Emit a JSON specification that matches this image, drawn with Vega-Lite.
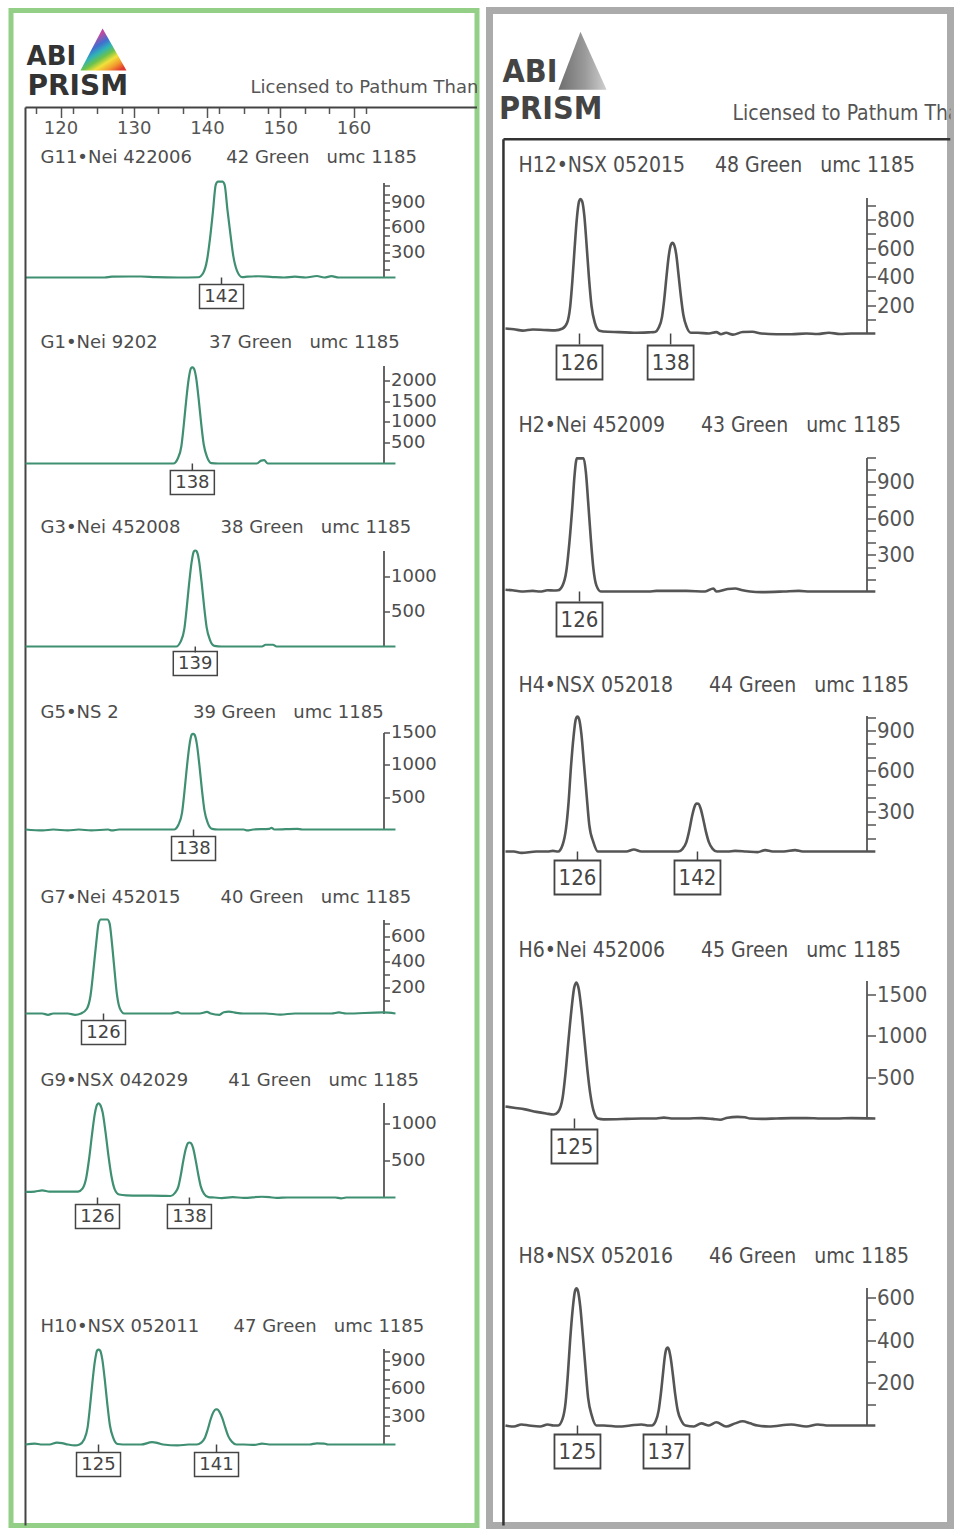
{
"$schema":"https://vega.github.io/schema/vega-lite/v6.json",
"background":"white",
"padding":{"left":8,"top":6.5,"right":0,"bottom":0},
"spacing":12.5,
"bounds":"flush",
"config":{"axis":{"grid":false,"domainColor":"#555","tickColor":"#555","tickWidth":1.5,"labelColor":"#4d4d4d","labelOverlap":false,"labelFlush":false,"labelBound":false,"domainWidth":1.8,"labelPadding":1}},
"datasets":{
"tr":[
{"p":"G11","x":115.22,"y":0},{"p":"G11","x":120,"y":0},{"p":"G11","x":126,"y":0},{"p":"G11","x":127,"y":10},{"p":"G11","x":131,"y":12},{"p":"G11","x":133,"y":4},{"p":"G11","x":136,"y":0},{"p":"G11","x":138.8,"y":3},{"p":"G11","x":139.5,"y":58},{"p":"G11","x":140.0,"y":207},{"p":"G11","x":140.4,"y":460},{"p":"G11","x":140.8,"y":782},{"p":"G11","x":141.2,"y":1115},{"p":"G11","x":141.5,"y":1150},{"p":"G11","x":142.1,"y":1150},{"p":"G11","x":142.4,"y":1115},{"p":"G11","x":142.8,"y":805},{"p":"G11","x":143.2,"y":518},{"p":"G11","x":143.6,"y":253},{"p":"G11","x":144.1,"y":80},{"p":"G11","x":144.8,"y":5},{"p":"G11","x":145.5,"y":10},{"p":"G11","x":147,"y":15},{"p":"G11","x":149,"y":5},{"p":"G11","x":150.5,"y":0},{"p":"G11","x":152,"y":10},{"p":"G11","x":153.5,"y":0},{"p":"G11","x":155,"y":18},{"p":"G11","x":156,"y":0},{"p":"G11","x":157,"y":16},{"p":"G11","x":158,"y":0},{"p":"G11","x":163,"y":0},{"p":"G11","x":165.73,"y":0},
{"p":"G1","x":115.22,"y":0},{"p":"G1","x":125,"y":0},{"p":"G1","x":132,"y":0},{"p":"G1","x":135.4,"y":0},{"p":"G1","x":136.0,"y":116},{"p":"G1","x":136.5,"y":416},{"p":"G1","x":136.8,"y":879},{"p":"G1","x":137.15,"y":1503},{"p":"G1","x":137.5,"y":2035},{"p":"G1","x":137.8,"y":2290},{"p":"G1","x":138.0,"y":2313},{"p":"G1","x":138.2,"y":2290},{"p":"G1","x":138.5,"y":2082},{"p":"G1","x":138.85,"y":1573},{"p":"G1","x":139.2,"y":971},{"p":"G1","x":139.55,"y":463},{"p":"G1","x":140.0,"y":162},{"p":"G1","x":140.6,"y":10},{"p":"G1","x":141.5,"y":0},{"p":"G1","x":146.8,"y":0},{"p":"G1","x":147.4,"y":70},{"p":"G1","x":147.8,"y":80},{"p":"G1","x":148.3,"y":0},{"p":"G1","x":150,"y":0},{"p":"G1","x":160,"y":0},{"p":"G1","x":165.73,"y":0},
{"p":"G3","x":115.22,"y":0},{"p":"G3","x":130,"y":0},{"p":"G3","x":135.8,"y":0},{"p":"G3","x":136.4,"y":69},{"p":"G3","x":136.9,"y":247},{"p":"G3","x":137.2,"y":521},{"p":"G3","x":137.55,"y":891},{"p":"G3","x":137.9,"y":1206},{"p":"G3","x":138.2,"y":1357},{"p":"G3","x":138.4,"y":1371},{"p":"G3","x":138.6,"y":1357},{"p":"G3","x":138.9,"y":1234},{"p":"G3","x":139.25,"y":932},{"p":"G3","x":139.6,"y":576},{"p":"G3","x":139.95,"y":274},{"p":"G3","x":140.4,"y":96},{"p":"G3","x":141.0,"y":10},{"p":"G3","x":142,"y":0},{"p":"G3","x":147.5,"y":0},{"p":"G3","x":148,"y":25},{"p":"G3","x":149,"y":25},{"p":"G3","x":149.5,"y":0},{"p":"G3","x":155,"y":0},{"p":"G3","x":165.73,"y":0},
{"p":"G5","x":115.22,"y":0},{"p":"G5","x":117.6,"y":-15},{"p":"G5","x":119,"y":0},{"p":"G5","x":121,"y":-15},{"p":"G5","x":122.5,"y":0},{"p":"G5","x":124.2,"y":-15},{"p":"G5","x":126.5,"y":0},{"p":"G5","x":127,"y":-15},{"p":"G5","x":128,"y":0},{"p":"G5","x":135.5,"y":0},{"p":"G5","x":136.1,"y":74},{"p":"G5","x":136.6,"y":266},{"p":"G5","x":136.9,"y":562},{"p":"G5","x":137.25,"y":962},{"p":"G5","x":137.6,"y":1302},{"p":"G5","x":137.9,"y":1465},{"p":"G5","x":138.1,"y":1480},{"p":"G5","x":138.3,"y":1465},{"p":"G5","x":138.6,"y":1332},{"p":"G5","x":138.95,"y":1006},{"p":"G5","x":139.3,"y":622},{"p":"G5","x":139.65,"y":296},{"p":"G5","x":140.1,"y":104},{"p":"G5","x":140.7,"y":10},{"p":"G5","x":141.5,"y":0},{"p":"G5","x":145,"y":0},{"p":"G5","x":145.5,"y":-15},{"p":"G5","x":146.3,"y":0},{"p":"G5","x":148.5,"y":10},{"p":"G5","x":148.8,"y":25},{"p":"G5","x":149.2,"y":0},{"p":"G5","x":152.3,"y":10},{"p":"G5","x":153,"y":0},{"p":"G5","x":160,"y":0},{"p":"G5","x":165.73,"y":0},
{"p":"G7","x":115.22,"y":0},{"p":"G7","x":117.5,"y":0},{"p":"G7","x":118.3,"y":-10},{"p":"G7","x":119,"y":0},{"p":"G7","x":121,"y":0},{"p":"G7","x":122,"y":-10},{"p":"G7","x":122.8,"y":0},{"p":"G7","x":123.6,"y":37},{"p":"G7","x":124.1,"y":140},{"p":"G7","x":124.5,"y":340},{"p":"G7","x":124.9,"y":560},{"p":"G7","x":125.2,"y":700},{"p":"G7","x":125.5,"y":730},{"p":"G7","x":126.4,"y":730},{"p":"G7","x":126.7,"y":700},{"p":"G7","x":127.0,"y":560},{"p":"G7","x":127.35,"y":350},{"p":"G7","x":127.7,"y":150},{"p":"G7","x":128.1,"y":40},{"p":"G7","x":128.7,"y":0},{"p":"G7","x":129.5,"y":0},{"p":"G7","x":135,"y":0},{"p":"G7","x":136,"y":10},{"p":"G7","x":136.5,"y":0},{"p":"G7","x":139,"y":0},{"p":"G7","x":140,"y":12},{"p":"G7","x":140.5,"y":0},{"p":"G7","x":141.7,"y":-10},{"p":"G7","x":142.3,"y":10},{"p":"G7","x":143,"y":15},{"p":"G7","x":144,"y":5},{"p":"G7","x":145,"y":0},{"p":"G7","x":148,"y":0},{"p":"G7","x":150,"y":-8},{"p":"G7","x":152,"y":0},{"p":"G7","x":157,"y":0},{"p":"G7","x":158,"y":8},{"p":"G7","x":159,"y":0},{"p":"G7","x":164,"y":8},{"p":"G7","x":165.73,"y":0},
{"p":"G9","x":115.22,"y":75},{"p":"G9","x":116.5,"y":80},{"p":"G9","x":117.5,"y":95},{"p":"G9","x":118.5,"y":80},{"p":"G9","x":121,"y":78},{"p":"G9","x":122.4,"y":80},{"p":"G9","x":123.0,"y":120},{"p":"G9","x":123.5,"y":260},{"p":"G9","x":123.9,"y":520},{"p":"G9","x":124.3,"y":850},{"p":"G9","x":124.7,"y":1140},{"p":"G9","x":125.0,"y":1255},{"p":"G9","x":125.2,"y":1270},{"p":"G9","x":125.4,"y":1255},{"p":"G9","x":125.75,"y":1150},{"p":"G9","x":126.15,"y":880},{"p":"G9","x":126.55,"y":560},{"p":"G9","x":126.95,"y":290},{"p":"G9","x":127.4,"y":110},{"p":"G9","x":128.0,"y":40},{"p":"G9","x":129,"y":30},{"p":"G9","x":132,"y":25},{"p":"G9","x":134,"y":22},{"p":"G9","x":135.0,"y":20},{"p":"G9","x":135.6,"y":60},{"p":"G9","x":136.1,"y":150},{"p":"G9","x":136.4,"y":290},{"p":"G9","x":136.75,"y":490},{"p":"G9","x":137.1,"y":655},{"p":"G9","x":137.4,"y":735},{"p":"G9","x":137.6,"y":743},{"p":"G9","x":137.8,"y":735},{"p":"G9","x":138.1,"y":670},{"p":"G9","x":138.45,"y":505},{"p":"G9","x":138.8,"y":315},{"p":"G9","x":139.15,"y":150},{"p":"G9","x":139.6,"y":50},{"p":"G9","x":140.2,"y":5},{"p":"G9","x":141,"y":0},{"p":"G9","x":142,"y":-8},{"p":"G9","x":143.5,"y":5},{"p":"G9","x":145,"y":-5},{"p":"G9","x":147.5,"y":10},{"p":"G9","x":148.5,"y":5},{"p":"G9","x":149.5,"y":-5},{"p":"G9","x":151,"y":0},{"p":"G9","x":157.5,"y":0},{"p":"G9","x":158.3,"y":-12},{"p":"G9","x":159,"y":0},{"p":"G9","x":165.73,"y":0},
{"p":"H10","x":115.22,"y":0},{"p":"H10","x":116.5,"y":10},{"p":"H10","x":117.3,"y":0},{"p":"H10","x":118.5,"y":0},{"p":"H10","x":119.5,"y":20},{"p":"H10","x":120.2,"y":15},{"p":"H10","x":121,"y":0},{"p":"H10","x":122,"y":-10},{"p":"H10","x":122.6,"y":0},{"p":"H10","x":123.2,"y":51},{"p":"H10","x":123.7,"y":183},{"p":"H10","x":124.0,"y":386},{"p":"H10","x":124.35,"y":660},{"p":"H10","x":124.7,"y":894},{"p":"H10","x":125.0,"y":1006},{"p":"H10","x":125.2,"y":1016},{"p":"H10","x":125.4,"y":1006},{"p":"H10","x":125.7,"y":914},{"p":"H10","x":126.05,"y":691},{"p":"H10","x":126.4,"y":427},{"p":"H10","x":126.75,"y":203},{"p":"H10","x":127.2,"y":71},{"p":"H10","x":127.8,"y":5},{"p":"H10","x":128.5,"y":0},{"p":"H10","x":131,"y":0},{"p":"H10","x":132.5,"y":25},{"p":"H10","x":133.3,"y":15},{"p":"H10","x":134,"y":0},{"p":"H10","x":136,"y":-10},{"p":"H10","x":137.5,"y":0},{"p":"H10","x":138.6,"y":0},{"p":"H10","x":139.2,"y":20},{"p":"H10","x":139.7,"y":70},{"p":"H10","x":140.1,"y":160},{"p":"H10","x":140.5,"y":270},{"p":"H10","x":140.9,"y":350},{"p":"H10","x":141.2,"y":375},{"p":"H10","x":141.4,"y":375},{"p":"H10","x":141.7,"y":350},{"p":"H10","x":142.1,"y":280},{"p":"H10","x":142.5,"y":180},{"p":"H10","x":142.9,"y":90},{"p":"H10","x":143.4,"y":30},{"p":"H10","x":144.0,"y":0},{"p":"H10","x":145,"y":0},{"p":"H10","x":146.5,"y":-5},{"p":"H10","x":147.5,"y":10},{"p":"H10","x":148.5,"y":0},{"p":"H10","x":154,"y":0},{"p":"H10","x":155,"y":12},{"p":"H10","x":156,"y":10},{"p":"H10","x":156.5,"y":0},{"p":"H10","x":165.73,"y":0},
{"p":"H12","x":115.88,"y":35},{"p":"H12","x":117,"y":30},{"p":"H12","x":118.2,"y":20},{"p":"H12","x":119.5,"y":28},{"p":"H12","x":121,"y":25},{"p":"H12","x":122.5,"y":22},{"p":"H12","x":123.5,"y":35},{"p":"H12","x":124.1,"y":75},{"p":"H12","x":124.5,"y":185},{"p":"H12","x":124.8,"y":370},{"p":"H12","x":125.1,"y":600},{"p":"H12","x":125.4,"y":810},{"p":"H12","x":125.7,"y":930},{"p":"H12","x":125.88,"y":945},{"p":"H12","x":126.1,"y":930},{"p":"H12","x":126.4,"y":825},{"p":"H12","x":126.7,"y":620},{"p":"H12","x":127.0,"y":400},{"p":"H12","x":127.35,"y":195},{"p":"H12","x":127.8,"y":75},{"p":"H12","x":128.4,"y":20},{"p":"H12","x":129.5,"y":12},{"p":"H12","x":131,"y":10},{"p":"H12","x":133,"y":5},{"p":"H12","x":135,"y":8},{"p":"H12","x":135.8,"y":10},{"p":"H12","x":136.3,"y":40},{"p":"H12","x":136.75,"y":115},{"p":"H12","x":137.05,"y":240},{"p":"H12","x":137.35,"y":400},{"p":"H12","x":137.65,"y":545},{"p":"H12","x":137.95,"y":625},{"p":"H12","x":138.15,"y":637},{"p":"H12","x":138.35,"y":625},{"p":"H12","x":138.65,"y":555},{"p":"H12","x":138.95,"y":415},{"p":"H12","x":139.25,"y":270},{"p":"H12","x":139.6,"y":130},{"p":"H12","x":140.05,"y":45},{"p":"H12","x":140.6,"y":5},{"p":"H12","x":141.5,"y":5},{"p":"H12","x":143,"y":0},{"p":"H12","x":144,"y":10},{"p":"H12","x":144.6,"y":-5},{"p":"H12","x":145.3,"y":5},{"p":"H12","x":146.2,"y":-8},{"p":"H12","x":147.5,"y":10},{"p":"H12","x":148.8,"y":12},{"p":"H12","x":150,"y":0},{"p":"H12","x":152,"y":-5},{"p":"H12","x":154,"y":-5},{"p":"H12","x":156,"y":0},{"p":"H12","x":157.5,"y":-3},{"p":"H12","x":159,"y":5},{"p":"H12","x":160.5,"y":-3},{"p":"H12","x":162,"y":0},{"p":"H12","x":165.2,"y":0},
{"p":"H2","x":115.88,"y":15},{"p":"H2","x":116.8,"y":10},{"p":"H2","x":118,"y":0},{"p":"H2","x":119.5,"y":5},{"p":"H2","x":120.5,"y":0},{"p":"H2","x":121.5,"y":10},{"p":"H2","x":122.3,"y":8},{"p":"H2","x":122.9,"y":10},{"p":"H2","x":123.5,"y":50},{"p":"H2","x":124.0,"y":170},{"p":"H2","x":124.4,"y":400},{"p":"H2","x":124.8,"y":700},{"p":"H2","x":125.1,"y":960},{"p":"H2","x":125.4,"y":1093},{"p":"H2","x":126.3,"y":1093},{"p":"H2","x":126.6,"y":980},{"p":"H2","x":126.9,"y":740},{"p":"H2","x":127.25,"y":440},{"p":"H2","x":127.6,"y":190},{"p":"H2","x":128.0,"y":50},{"p":"H2","x":128.6,"y":0},{"p":"H2","x":129.5,"y":0},{"p":"H2","x":135,"y":0},{"p":"H2","x":136,"y":5},{"p":"H2","x":140,"y":5},{"p":"H2","x":142.5,"y":0},{"p":"H2","x":143.6,"y":25},{"p":"H2","x":144,"y":0},{"p":"H2","x":145.5,"y":20},{"p":"H2","x":146.5,"y":25},{"p":"H2","x":147.5,"y":10},{"p":"H2","x":148.5,"y":0},{"p":"H2","x":150,"y":-5},{"p":"H2","x":153,"y":0},{"p":"H2","x":155,"y":5},{"p":"H2","x":156.5,"y":0},{"p":"H2","x":160,"y":0},{"p":"H2","x":165.2,"y":0},
{"p":"H4","x":115.88,"y":0},{"p":"H4","x":117,"y":0},{"p":"H4","x":118,"y":-10},{"p":"H4","x":120,"y":0},{"p":"H4","x":121.5,"y":0},{"p":"H4","x":122.2,"y":5},{"p":"H4","x":122.9,"y":0},{"p":"H4","x":123.5,"y":50},{"p":"H4","x":123.95,"y":170},{"p":"H4","x":124.3,"y":370},{"p":"H4","x":124.6,"y":620},{"p":"H4","x":124.95,"y":850},{"p":"H4","x":125.26,"y":985},{"p":"H4","x":125.48,"y":1004},{"p":"H4","x":125.7,"y":985},{"p":"H4","x":126.0,"y":875},{"p":"H4","x":126.35,"y":650},{"p":"H4","x":126.7,"y":420},{"p":"H4","x":127.05,"y":200},{"p":"H4","x":127.6,"y":70},{"p":"H4","x":128.2,"y":0},{"p":"H4","x":129,"y":0},{"p":"H4","x":132,"y":0},{"p":"H4","x":133,"y":15},{"p":"H4","x":134,"y":0},{"p":"H4","x":138,"y":0},{"p":"H4","x":138.9,"y":0},{"p":"H4","x":139.5,"y":20},{"p":"H4","x":140.0,"y":70},{"p":"H4","x":140.4,"y":160},{"p":"H4","x":140.75,"y":260},{"p":"H4","x":141.1,"y":335},{"p":"H4","x":141.35,"y":357},{"p":"H4","x":141.6,"y":355},{"p":"H4","x":141.9,"y":320},{"p":"H4","x":142.25,"y":240},{"p":"H4","x":142.6,"y":150},{"p":"H4","x":143.0,"y":70},{"p":"H4","x":143.5,"y":20},{"p":"H4","x":144.1,"y":0},{"p":"H4","x":145.5,"y":0},{"p":"H4","x":146.5,"y":5},{"p":"H4","x":148,"y":0},{"p":"H4","x":149.5,"y":-5},{"p":"H4","x":150.5,"y":10},{"p":"H4","x":151.5,"y":0},{"p":"H4","x":153,"y":0},{"p":"H4","x":154.5,"y":10},{"p":"H4","x":155.5,"y":0},{"p":"H4","x":160,"y":0},{"p":"H4","x":165.2,"y":0},
{"p":"H6","x":115.88,"y":145},{"p":"H6","x":117,"y":130},{"p":"H6","x":118.5,"y":110},{"p":"H6","x":120,"y":80},{"p":"H6","x":121.3,"y":60},{"p":"H6","x":122.3,"y":48},{"p":"H6","x":122.9,"y":80},{"p":"H6","x":123.5,"y":250},{"p":"H6","x":123.9,"y":560},{"p":"H6","x":124.3,"y":960},{"p":"H6","x":124.7,"y":1330},{"p":"H6","x":125.05,"y":1580},{"p":"H6","x":125.35,"y":1639},{"p":"H6","x":125.65,"y":1560},{"p":"H6","x":126.0,"y":1320},{"p":"H6","x":126.4,"y":960},{"p":"H6","x":126.8,"y":590},{"p":"H6","x":127.2,"y":290},{"p":"H6","x":127.6,"y":100},{"p":"H6","x":128.2,"y":0},{"p":"H6","x":129,"y":-10},{"p":"H6","x":132,"y":-5},{"p":"H6","x":134,"y":0},{"p":"H6","x":136,"y":0},{"p":"H6","x":137,"y":10},{"p":"H6","x":138,"y":0},{"p":"H6","x":140,"y":0},{"p":"H6","x":142,"y":5},{"p":"H6","x":143.5,"y":-5},{"p":"H6","x":144.5,"y":-15},{"p":"H6","x":145.5,"y":10},{"p":"H6","x":146.8,"y":20},{"p":"H6","x":147.8,"y":15},{"p":"H6","x":148.5,"y":0},{"p":"H6","x":150,"y":-5},{"p":"H6","x":152,"y":0},{"p":"H6","x":154,"y":5},{"p":"H6","x":156,"y":5},{"p":"H6","x":158,"y":0},{"p":"H6","x":160,"y":0},{"p":"H6","x":162,"y":5},{"p":"H6","x":165.2,"y":0},
{"p":"H8","x":115.88,"y":0},{"p":"H8","x":117,"y":-5},{"p":"H8","x":118,"y":5},{"p":"H8","x":119,"y":0},{"p":"H8","x":120.5,"y":-5},{"p":"H8","x":121.5,"y":5},{"p":"H8","x":122.3,"y":0},{"p":"H8","x":122.9,"y":0},{"p":"H8","x":123.5,"y":32},{"p":"H8","x":123.9,"y":110},{"p":"H8","x":124.2,"y":240},{"p":"H8","x":124.5,"y":400},{"p":"H8","x":124.85,"y":550},{"p":"H8","x":125.15,"y":632},{"p":"H8","x":125.35,"y":645},{"p":"H8","x":125.55,"y":632},{"p":"H8","x":125.85,"y":560},{"p":"H8","x":126.2,"y":420},{"p":"H8","x":126.55,"y":270},{"p":"H8","x":126.9,"y":130},{"p":"H8","x":127.4,"y":45},{"p":"H8","x":128.0,"y":0},{"p":"H8","x":129,"y":0},{"p":"H8","x":131,"y":-5},{"p":"H8","x":132.5,"y":0},{"p":"H8","x":134,"y":5},{"p":"H8","x":135,"y":0},{"p":"H8","x":135.4,"y":0},{"p":"H8","x":135.9,"y":20},{"p":"H8","x":136.3,"y":70},{"p":"H8","x":136.6,"y":150},{"p":"H8","x":136.9,"y":250},{"p":"H8","x":137.15,"y":330},{"p":"H8","x":137.35,"y":362},{"p":"H8","x":137.5,"y":367},{"p":"H8","x":137.65,"y":360},{"p":"H8","x":137.9,"y":320},{"p":"H8","x":138.2,"y":240},{"p":"H8","x":138.5,"y":150},{"p":"H8","x":138.85,"y":70},{"p":"H8","x":139.3,"y":25},{"p":"H8","x":139.9,"y":0},{"p":"H8","x":141,"y":-5},{"p":"H8","x":142,"y":10},{"p":"H8","x":143,"y":0},{"p":"H8","x":144,"y":15},{"p":"H8","x":145.3,"y":-5},{"p":"H8","x":146.5,"y":10},{"p":"H8","x":147.5,"y":20},{"p":"H8","x":148.5,"y":10},{"p":"H8","x":149.5,"y":0},{"p":"H8","x":151,"y":-5},{"p":"H8","x":154,"y":5},{"p":"H8","x":156,"y":-5},{"p":"H8","x":157.5,"y":5},{"p":"H8","x":159,"y":0},{"p":"H8","x":162,"y":0},{"p":"H8","x":165.2,"y":0}
],
"pk":[
{"p":"G11","x":141.98,"a":142},{"p":"G1","x":138.0,"a":138},{"p":"G3","x":138.4,"a":139},{"p":"G5","x":138.16,"a":138},{"p":"G7","x":125.87,"a":126},{"p":"G9","x":125.05,"a":126},{"p":"G9","x":137.6,"a":138},{"p":"H10","x":125.19,"a":125},{"p":"H10","x":141.3,"a":141},
{"p":"H12","x":125.75,"a":126},{"p":"H12","x":137.9,"a":138},{"p":"H2","x":125.75,"a":126},{"p":"H4","x":125.48,"a":126},{"p":"H4","x":141.48,"a":142},{"p":"H6","x":125.08,"a":125},{"p":"H8","x":125.48,"a":125},{"p":"H8","x":137.35,"a":137}
],
"ti":[
{"p":"G11","t":"G11•Nei 422006\u00a0\u00a0\u00a0\u00a0\u00a0\u00a042 Green\u00a0\u00a0\u00a0umc 1185"},
{"p":"G1","t":"G1•Nei 9202\u00a0\u00a0\u00a0\u00a0\u00a0\u00a0\u00a0\u00a0\u00a037 Green\u00a0\u00a0\u00a0umc 1185"},
{"p":"G3","t":"G3•Nei 452008\u00a0\u00a0\u00a0\u00a0\u00a0\u00a0\u00a038 Green\u00a0\u00a0\u00a0umc 1185"},
{"p":"G5","t":"G5•NS 2\u00a0\u00a0\u00a0\u00a0\u00a0\u00a0\u00a0\u00a0\u00a0\u00a0\u00a0\u00a0\u00a039 Green\u00a0\u00a0\u00a0umc 1185"},
{"p":"G7","t":"G7•Nei 452015\u00a0\u00a0\u00a0\u00a0\u00a0\u00a0\u00a040 Green\u00a0\u00a0\u00a0umc 1185"},
{"p":"G9","t":"G9•NSX 042029\u00a0\u00a0\u00a0\u00a0\u00a0\u00a0\u00a041 Green\u00a0\u00a0\u00a0umc 1185"},
{"p":"H10","t":"H10•NSX 052011\u00a0\u00a0\u00a0\u00a0\u00a0\u00a047 Green\u00a0\u00a0\u00a0umc 1185"},
{"p":"H12","t":"H12•NSX 052015\u00a0\u00a0\u00a0\u00a0\u00a048 Green\u00a0\u00a0\u00a0umc 1185"},
{"p":"H2","t":"H2•Nei 452009\u00a0\u00a0\u00a0\u00a0\u00a0\u00a043 Green\u00a0\u00a0\u00a0umc 1185"},
{"p":"H4","t":"H4•NSX 052018\u00a0\u00a0\u00a0\u00a0\u00a0\u00a044 Green\u00a0\u00a0\u00a0umc 1185"},
{"p":"H6","t":"H6•Nei 452006\u00a0\u00a0\u00a0\u00a0\u00a0\u00a045 Green\u00a0\u00a0\u00a0umc 1185"},
{"p":"H8","t":"H8•NSX 052016\u00a0\u00a0\u00a0\u00a0\u00a0\u00a046 Green\u00a0\u00a0\u00a0umc 1185"}
]
},
"hconcat":[
{
"width":466,"height":1515,
"view":{"stroke":"#93cf87","strokeWidth":5},
"resolve":{"scale":{"x":"independent","y":"independent"},"axis":{"x":"independent","y":"independent"}},
"layer":[
{"layer":[
{"data":{"name":"tr"},"transform":[{"filter":"datum.p==='G11'"}],"mark":{"type":"line","interpolate":"monotone","color":"#3f8f72","strokeWidth":2.2},"encoding":{"x":{"field":"x","type":"quantitative","scale":{"domain":[113.242,176.86],"nice":false,"zero":false},"axis":{"orient":"bottom","offset":-1418,"domain":false,"title":null,"format":"d","values":[120,130,140,150,160],"labelOverlap":false,"labelFlush":false,"labelBound":false,"tickSize":10,"labelFont":"DejaVu Sans","labelFontSize":18,"labelColor":"#555","labelPadding":2}},"y":{"field":"y","type":"quantitative","scale":{"domain":[0,1140],"range":[267,172],"nice":false,"zero":false},"axis":{"orient":"right","offset":-93.5,"title":null,"format":"d","values":[100,200,300,400,500,600,700,800,900,1000,1100],"labelExpr":"datum.value % 300 === 0 ? datum.label : ''","tickSize":6,"encode":{"ticks":{"update":{"x2":{"signal":"datum.value % 300 === 0 ? 6 : 3"}}}},"labelFont":"DejaVu Sans","labelFontSize":18}}}},
{"data":{"name":"ti"},"transform":[{"filter":"datum.p==='G11'"}],"mark":{"type":"text","align":"left","baseline":"middle","font":"DejaVu Sans","fontSize":18,"color":"#4d4d4d"},"encoding":{"x":{"datum":117.27},"y":{"datum":1440},"text":{"field":"t"}}},
{"data":{"name":"pk"},"transform":[{"filter":"datum.p==='G11'"}],"mark":{"type":"point","shape":"M-1,-0.545L1,-0.545L1,0.545L-1,0.545Z","size":1936,"filled":false,"stroke":"#444","strokeWidth":1.5,"opacity":1,"yOffset":19},"encoding":{"x":{"field":"x","type":"quantitative"},"y":{"datum":0}}},
{"data":{"name":"pk"},"transform":[{"filter":"datum.p==='G11'"}],"mark":{"type":"point","shape":"M0,0L0,1","size":196,"filled":false,"stroke":"#444","strokeWidth":1.5,"opacity":1},"encoding":{"x":{"field":"x","type":"quantitative"},"y":{"datum":0}}},
{"data":{"name":"pk"},"transform":[{"filter":"datum.p==='G11'"}],"mark":{"type":"text","font":"DejaVu Sans","fontSize":18,"color":"#444","baseline":"middle","dy":19.5},"encoding":{"x":{"field":"x","type":"quantitative"},"y":{"datum":0},"text":{"field":"a"}}},
{"data":{"name":"ti"},"transform":[{"filter":"datum.p==='G11'"}],"mark":{"type":"text","text":"ABI","font":"DejaVu Sans","fontWeight":"bold","fontSize":26,"color":"#333","align":"left","baseline":"middle"},"encoding":{"x":{"datum":115.36},"y":{"datum":2652}}},
{"data":{"name":"ti"},"transform":[{"filter":"datum.p==='G11'"}],"mark":{"type":"text","text":"PRISM","font":"DejaVu Sans","fontWeight":"bold","fontSize":28,"color":"#333","align":"left","baseline":"middle"},"encoding":{"x":{"datum":115.49},"y":{"datum":2292}}},
{"data":{"name":"ti"},"transform":[{"filter":"datum.p==='G11'"}],"mark":{"type":"point","shape":"M-0.04,-0.91L1,0.91L-1,0.91Z","size":2116,"filled":true,"opacity":1,"strokeWidth":0,"fill":{"gradient":"linear","x1":0.15,"y1":0,"x2":0.85,"y2":1,"stops":[{"offset":0,"color":"#8b3d9e"},{"offset":0.22,"color":"#c04aa0"},{"offset":0.38,"color":"#3f6fd0"},{"offset":0.5,"color":"#2fb3b8"},{"offset":0.62,"color":"#6cc24a"},{"offset":0.74,"color":"#f2e13a"},{"offset":0.87,"color":"#f29a2e"},{"offset":1,"color":"#e2392f"}]}},"encoding":{"x":{"datum":125.87},"y":{"datum":2736}}},
{"data":{"name":"ti"},"transform":[{"filter":"datum.p==='G11'"}],"mark":{"type":"text","text":"Licensed to Pathum Thani","font":"DejaVu Sans","fontSize":18,"color":"#555","align":"left","baseline":"middle","clip":true},"encoding":{"x":{"datum":145.94},"y":{"datum":2280}}},
{"data":{"name":"ti"},"transform":[{"filter":"datum.p==='G11'"}],"mark":{"type":"rule","color":"#444","strokeWidth":2,"clip":true},"encoding":{"x":{"datum":115.22},"x2":{"datum":176.86},"y":{"datum":2040}}},
{"data":{"name":"ti"},"transform":[{"filter":"datum.p==='G11'"}],"mark":{"type":"rule","color":"#444","strokeWidth":2,"clip":true},"encoding":{"x":{"datum":115.22},"y":{"datum":2040},"y2":{"datum":-16000}}}
]},
{"layer":[
{"data":{"name":"tr"},"transform":[{"filter":"datum.p==='G1'"}],"mark":{"type":"line","interpolate":"monotone","color":"#3f8f72","strokeWidth":2.2},"encoding":{"x":{"field":"x","type":"quantitative","scale":{"domain":[113.242,176.86],"nice":false,"zero":false},"axis":{"orient":"bottom","offset":-1418,"domain":false,"labels":false,"grid":false,"title":null,"values":[116.667,118.333,121.667,123.333,125,126.667,128.333,131.667,133.333,135,136.667,138.333,141.667,143.333,145,146.667,148.333,151.667,153.333,155,156.667,158.333,161.667,163.333],"tickSize":6}},"y":{"field":"y","type":"quantitative","scale":{"domain":[0,2360],"range":[453,355],"nice":false,"zero":false},"axis":{"orient":"right","offset":-93.5,"title":null,"format":"d","values":[500,1000,1500,2000],"tickSize":6,"labelFont":"DejaVu Sans","labelFontSize":18}}}},
{"data":{"name":"ti"},"transform":[{"filter":"datum.p==='G1'"}],"mark":{"type":"text","align":"left","baseline":"middle","font":"DejaVu Sans","fontSize":18,"color":"#4d4d4d"},"encoding":{"x":{"datum":117.27},"y":{"datum":2892},"text":{"field":"t"}}},
{"data":{"name":"pk"},"transform":[{"filter":"datum.p==='G1'"}],"mark":{"type":"point","shape":"M-1,-0.545L1,-0.545L1,0.545L-1,0.545Z","size":1936,"filled":false,"stroke":"#444","strokeWidth":1.5,"opacity":1,"yOffset":19},"encoding":{"x":{"field":"x","type":"quantitative"},"y":{"datum":0}}},
{"data":{"name":"pk"},"transform":[{"filter":"datum.p==='G1'"}],"mark":{"type":"point","shape":"M0,0L0,1","size":196,"filled":false,"stroke":"#444","strokeWidth":1.5,"opacity":1},"encoding":{"x":{"field":"x","type":"quantitative"},"y":{"datum":0}}},
{"data":{"name":"pk"},"transform":[{"filter":"datum.p==='G1'"}],"mark":{"type":"text","font":"DejaVu Sans","fontSize":18,"color":"#444","baseline":"middle","dy":19.5},"encoding":{"x":{"field":"x","type":"quantitative"},"y":{"datum":0},"text":{"field":"a"}}}
]},
{"layer":[
{"data":{"name":"tr"},"transform":[{"filter":"datum.p==='G3'"}],"mark":{"type":"line","interpolate":"monotone","color":"#3f8f72","strokeWidth":2.2},"encoding":{"x":{"field":"x","type":"quantitative","scale":{"domain":[113.242,176.86],"nice":false,"zero":false},"axis":{"domain":false,"ticks":false,"labels":false,"grid":false,"title":null}},"y":{"field":"y","type":"quantitative","scale":{"domain":[0,1371],"range":[636,540],"nice":false,"zero":false},"axis":{"orient":"right","offset":-93.5,"title":null,"format":"d","values":[500,1000],"tickSize":6,"labelFont":"DejaVu Sans","labelFontSize":18}}}},
{"data":{"name":"ti"},"transform":[{"filter":"datum.p==='G3'"}],"mark":{"type":"text","align":"left","baseline":"middle","font":"DejaVu Sans","fontSize":18,"color":"#4d4d4d"},"encoding":{"x":{"datum":117.27},"y":{"datum":1686},"text":{"field":"t"}}},
{"data":{"name":"pk"},"transform":[{"filter":"datum.p==='G3'"}],"mark":{"type":"point","shape":"M-1,-0.545L1,-0.545L1,0.545L-1,0.545Z","size":1936,"filled":false,"stroke":"#444","strokeWidth":1.5,"opacity":1,"yOffset":17},"encoding":{"x":{"field":"x","type":"quantitative"},"y":{"datum":0}}},
{"data":{"name":"pk"},"transform":[{"filter":"datum.p==='G3'"}],"mark":{"type":"point","shape":"M0,0L0,1","size":144,"filled":false,"stroke":"#444","strokeWidth":1.5,"opacity":1},"encoding":{"x":{"field":"x","type":"quantitative"},"y":{"datum":0}}},
{"data":{"name":"pk"},"transform":[{"filter":"datum.p==='G3'"}],"mark":{"type":"text","font":"DejaVu Sans","fontSize":18,"color":"#444","baseline":"middle","dy":17.5},"encoding":{"x":{"field":"x","type":"quantitative"},"y":{"datum":0},"text":{"field":"a"}}}
]},
{"layer":[
{"data":{"name":"tr"},"transform":[{"filter":"datum.p==='G5'"}],"mark":{"type":"line","interpolate":"monotone","color":"#3f8f72","strokeWidth":2.2},"encoding":{"x":{"field":"x","type":"quantitative","scale":{"domain":[113.242,176.86],"nice":false,"zero":false},"axis":{"domain":false,"ticks":false,"labels":false,"grid":false,"title":null}},"y":{"field":"y","type":"quantitative","scale":{"domain":[0,1500],"range":[819,722],"nice":false,"zero":false},"axis":{"orient":"right","offset":-93.5,"title":null,"format":"d","values":[500,1000,1500],"tickSize":6,"labelFont":"DejaVu Sans","labelFontSize":18}}}},
{"data":{"name":"ti"},"transform":[{"filter":"datum.p==='G5'"}],"mark":{"type":"text","align":"left","baseline":"middle","font":"DejaVu Sans","fontSize":18,"color":"#4d4d4d"},"encoding":{"x":{"datum":117.27},"y":{"datum":1800},"text":{"field":"t"}}},
{"data":{"name":"pk"},"transform":[{"filter":"datum.p==='G5'"}],"mark":{"type":"point","shape":"M-1,-0.545L1,-0.545L1,0.545L-1,0.545Z","size":1936,"filled":false,"stroke":"#444","strokeWidth":1.5,"opacity":1,"yOffset":19},"encoding":{"x":{"field":"x","type":"quantitative"},"y":{"datum":0}}},
{"data":{"name":"pk"},"transform":[{"filter":"datum.p==='G5'"}],"mark":{"type":"point","shape":"M0,0L0,1","size":196,"filled":false,"stroke":"#444","strokeWidth":1.5,"opacity":1},"encoding":{"x":{"field":"x","type":"quantitative"},"y":{"datum":0}}},
{"data":{"name":"pk"},"transform":[{"filter":"datum.p==='G5'"}],"mark":{"type":"text","font":"DejaVu Sans","fontSize":18,"color":"#444","baseline":"middle","dy":19.5},"encoding":{"x":{"field":"x","type":"quantitative"},"y":{"datum":0},"text":{"field":"a"}}}
]},
{"layer":[
{"data":{"name":"tr"},"transform":[{"filter":"datum.p==='G7'"}],"mark":{"type":"line","interpolate":"monotone","color":"#3f8f72","strokeWidth":2.2},"encoding":{"x":{"field":"x","type":"quantitative","scale":{"domain":[113.242,176.86],"nice":false,"zero":false},"axis":{"domain":false,"ticks":false,"labels":false,"grid":false,"title":null}},"y":{"field":"y","type":"quantitative","scale":{"domain":[0,730],"range":[1003,909],"nice":false,"zero":false},"axis":{"orient":"right","offset":-93.5,"title":null,"format":"d","values":[100,200,300,400,500,600,700],"labelExpr":"datum.value % 200 === 0 ? datum.label : ''","tickSize":6,"encode":{"ticks":{"update":{"x2":{"signal":"datum.value % 200 === 0 ? 6 : 3"}}}},"labelFont":"DejaVu Sans","labelFontSize":18}}}},
{"data":{"name":"ti"},"transform":[{"filter":"datum.p==='G7'"}],"mark":{"type":"text","align":"left","baseline":"middle","font":"DejaVu Sans","fontSize":18,"color":"#4d4d4d"},"encoding":{"x":{"datum":117.27},"y":{"datum":900},"text":{"field":"t"}}},
{"data":{"name":"pk"},"transform":[{"filter":"datum.p==='G7'"}],"mark":{"type":"point","shape":"M-1,-0.545L1,-0.545L1,0.545L-1,0.545Z","size":1936,"filled":false,"stroke":"#444","strokeWidth":1.5,"opacity":1,"yOffset":19},"encoding":{"x":{"field":"x","type":"quantitative"},"y":{"datum":0}}},
{"data":{"name":"pk"},"transform":[{"filter":"datum.p==='G7'"}],"mark":{"type":"point","shape":"M0,0L0,1","size":196,"filled":false,"stroke":"#444","strokeWidth":1.5,"opacity":1},"encoding":{"x":{"field":"x","type":"quantitative"},"y":{"datum":0}}},
{"data":{"name":"pk"},"transform":[{"filter":"datum.p==='G7'"}],"mark":{"type":"text","font":"DejaVu Sans","fontSize":18,"color":"#444","baseline":"middle","dy":19.5},"encoding":{"x":{"field":"x","type":"quantitative"},"y":{"datum":0},"text":{"field":"a"}}}
]},
{"layer":[
{"data":{"name":"tr"},"transform":[{"filter":"datum.p==='G9'"}],"mark":{"type":"line","interpolate":"monotone","color":"#3f8f72","strokeWidth":2.2},"encoding":{"x":{"field":"x","type":"quantitative","scale":{"domain":[113.242,176.86],"nice":false,"zero":false},"axis":{"domain":false,"ticks":false,"labels":false,"grid":false,"title":null}},"y":{"field":"y","type":"quantitative","scale":{"domain":[0,1283],"range":[1187,1092],"nice":false,"zero":false},"axis":{"orient":"right","offset":-93.5,"title":null,"format":"d","values":[500,1000],"tickSize":6,"labelFont":"DejaVu Sans","labelFontSize":18}}}},
{"data":{"name":"ti"},"transform":[{"filter":"datum.p==='G9'"}],"mark":{"type":"text","align":"left","baseline":"middle","font":"DejaVu Sans","fontSize":18,"color":"#4d4d4d"},"encoding":{"x":{"datum":117.27},"y":{"datum":1580},"text":{"field":"t"}}},
{"data":{"name":"pk"},"transform":[{"filter":"datum.p==='G9'"}],"mark":{"type":"point","shape":"M-1,-0.545L1,-0.545L1,0.545L-1,0.545Z","size":1936,"filled":false,"stroke":"#444","strokeWidth":1.5,"opacity":1,"yOffset":19},"encoding":{"x":{"field":"x","type":"quantitative"},"y":{"datum":0}}},
{"data":{"name":"pk"},"transform":[{"filter":"datum.p==='G9'"}],"mark":{"type":"point","shape":"M0,0L0,1","size":196,"filled":false,"stroke":"#444","strokeWidth":1.5,"opacity":1},"encoding":{"x":{"field":"x","type":"quantitative"},"y":{"datum":0}}},
{"data":{"name":"pk"},"transform":[{"filter":"datum.p==='G9'"}],"mark":{"type":"text","font":"DejaVu Sans","fontSize":18,"color":"#444","baseline":"middle","dy":19.5},"encoding":{"x":{"field":"x","type":"quantitative"},"y":{"datum":0},"text":{"field":"a"}}}
]},
{"layer":[
{"data":{"name":"tr"},"transform":[{"filter":"datum.p==='H10'"}],"mark":{"type":"line","interpolate":"monotone","color":"#3f8f72","strokeWidth":2.2},"encoding":{"x":{"field":"x","type":"quantitative","scale":{"domain":[113.242,176.86],"nice":false,"zero":false},"axis":{"domain":false,"ticks":false,"labels":false,"grid":false,"title":null}},"y":{"field":"y","type":"quantitative","scale":{"domain":[0,1027],"range":[1434,1338],"nice":false,"zero":false},"axis":{"orient":"right","offset":-93.5,"title":null,"format":"d","values":[100,200,300,400,500,600,700,800,900,1000],"labelExpr":"datum.value % 300 === 0 ? datum.label : ''","tickSize":6,"encode":{"ticks":{"update":{"x2":{"signal":"datum.value % 300 === 0 ? 6 : 3"}}}},"labelFont":"DejaVu Sans","labelFontSize":18}}}},
{"data":{"name":"ti"},"transform":[{"filter":"datum.p==='H10'"}],"mark":{"type":"text","align":"left","baseline":"middle","font":"DejaVu Sans","fontSize":18,"color":"#4d4d4d"},"encoding":{"x":{"datum":117.27},"y":{"datum":1252},"text":{"field":"t"}}},
{"data":{"name":"pk"},"transform":[{"filter":"datum.p==='H10'"}],"mark":{"type":"point","shape":"M-1,-0.545L1,-0.545L1,0.545L-1,0.545Z","size":1936,"filled":false,"stroke":"#444","strokeWidth":1.5,"opacity":1,"yOffset":20},"encoding":{"x":{"field":"x","type":"quantitative"},"y":{"datum":0}}},
{"data":{"name":"pk"},"transform":[{"filter":"datum.p==='H10'"}],"mark":{"type":"point","shape":"M0,0L0,1","size":256,"filled":false,"stroke":"#444","strokeWidth":1.5,"opacity":1},"encoding":{"x":{"field":"x","type":"quantitative"},"y":{"datum":0}}},
{"data":{"name":"pk"},"transform":[{"filter":"datum.p==='H10'"}],"mark":{"type":"text","font":"DejaVu Sans","fontSize":18,"color":"#444","baseline":"middle","dy":20.5},"encoding":{"x":{"field":"x","type":"quantitative"},"y":{"datum":0},"text":{"field":"a"}}}
]}
]
},
{
"width":461,"height":1515,
"view":{"stroke":"#ababab","strokeWidth":7},
"resolve":{"scale":{"x":"independent","y":"independent"},"axis":{"x":"independent","y":"independent"}},
"layer":[
{"layer":[
{"data":{"name":"tr"},"transform":[{"filter":"datum.p==='H12'"}],"mark":{"type":"line","interpolate":"monotone","color":"#555","strokeWidth":2.6},"encoding":{"x":{"field":"x","type":"quantitative","scale":{"domain":[113.75,175.22],"nice":false,"zero":false},"axis":{"domain":false,"ticks":false,"labels":false,"grid":false,"title":null}},"y":{"field":"y","type":"quantitative","scale":{"domain":[0,956],"range":[323,187],"nice":false,"zero":false},"axis":{"orient":"right","offset":-84,"title":null,"format":"d","values":[100,200,300,400,500,600,700,800,900],"labelExpr":"datum.value % 200 === 0 ? datum.label : ''","tickSize":9,"encode":{"ticks":{"update":{"x2":{"signal":"datum.value % 200 === 0 ? 9 : 4"}}}},"labelFont":"DejaVu Sans Condensed, DejaVu Sans","labelFontSize":22,"labelColor":"#555"}}}},
{"data":{"name":"ti"},"transform":[{"filter":"datum.p==='H12'"}],"mark":{"type":"text","align":"left","baseline":"middle","font":"DejaVu Sans Condensed, DejaVu Sans","fontSize":21,"color":"#4d4d4d"},"encoding":{"x":{"datum":117.61},"y":{"datum":1176},"text":{"field":"t"}}},
{"data":{"name":"pk"},"transform":[{"filter":"datum.p==='H12'"}],"mark":{"type":"point","shape":"M-1,-0.74L1,-0.74L1,0.74L-1,0.74Z","size":2116,"filled":false,"stroke":"#444","strokeWidth":1.8,"opacity":1,"yOffset":29},"encoding":{"x":{"field":"x","type":"quantitative"},"y":{"datum":0}}},
{"data":{"name":"pk"},"transform":[{"filter":"datum.p==='H12'"}],"mark":{"type":"point","shape":"M0,0L0,1","size":484,"filled":false,"stroke":"#444","strokeWidth":1.5,"opacity":1},"encoding":{"x":{"field":"x","type":"quantitative"},"y":{"datum":0}}},
{"data":{"name":"pk"},"transform":[{"filter":"datum.p==='H12'"}],"mark":{"type":"text","font":"DejaVu Sans Condensed, DejaVu Sans","fontSize":22,"color":"#444","baseline":"middle","dy":29.5},"encoding":{"x":{"field":"x","type":"quantitative"},"y":{"datum":0},"text":{"field":"a"}}},
{"data":{"name":"ti"},"transform":[{"filter":"datum.p==='H12'"}],"mark":{"type":"text","text":"ABI","font":"DejaVu Sans Condensed, DejaVu Sans","fontWeight":"bold","fontSize":32,"color":"#444","align":"left","baseline":"middle"},"encoding":{"x":{"datum":115.48},"y":{"datum":1841}}},
{"data":{"name":"ti"},"transform":[{"filter":"datum.p==='H12'"}],"mark":{"type":"text","text":"PRISM","font":"DejaVu Sans Condensed, DejaVu Sans","fontWeight":"bold","fontSize":32,"color":"#444","align":"left","baseline":"middle"},"encoding":{"x":{"datum":115.01},"y":{"datum":1575}}},
{"data":{"name":"ti"},"transform":[{"filter":"datum.p==='H12'"}],"mark":{"type":"point","shape":"M-0.07,-1L0.83,1L-0.83,1Z","size":3364,"filled":true,"opacity":1,"strokeWidth":0,"fill":{"gradient":"linear","x1":0,"y1":0.5,"x2":1,"y2":0.5,"stops":[{"offset":0,"color":"#6e6e6e"},{"offset":0.55,"color":"#9a9a9a"},{"offset":1,"color":"#cfcfcf"}]}},"encoding":{"x":{"datum":126.15},"y":{"datum":1918}}},
{"data":{"name":"ti"},"transform":[{"filter":"datum.p==='H12'"}],"mark":{"type":"text","text":"Licensed to Pathum Thani","font":"DejaVu Sans Condensed, DejaVu Sans","fontSize":21,"color":"#555","align":"left","baseline":"middle","clip":true},"encoding":{"x":{"datum":146.15},"y":{"datum":1540}}},
{"data":{"name":"ti"},"transform":[{"filter":"datum.p==='H12'"}],"mark":{"type":"rule","color":"#333","strokeWidth":2.5,"clip":true},"encoding":{"x":{"datum":115.61},"x2":{"datum":175.22},"y":{"datum":1365}}},
{"data":{"name":"ti"},"transform":[{"filter":"datum.p==='H12'"}],"mark":{"type":"rule","color":"#333","strokeWidth":2.5,"clip":true},"encoding":{"x":{"datum":115.61},"y":{"datum":1365},"y2":{"datum":-9000}}}
]},
{"layer":[
{"data":{"name":"tr"},"transform":[{"filter":"datum.p==='H2'"}],"mark":{"type":"line","interpolate":"monotone","color":"#555","strokeWidth":2.6},"encoding":{"x":{"field":"x","type":"quantitative","scale":{"domain":[113.75,175.22],"nice":false,"zero":false},"axis":{"domain":false,"ticks":false,"labels":false,"grid":false,"title":null}},"y":{"field":"y","type":"quantitative","scale":{"domain":[0,1100],"range":[581,447],"nice":false,"zero":false},"axis":{"orient":"right","offset":-84,"title":null,"format":"d","values":[100,200,300,400,500,600,700,800,900,1000,1100],"labelExpr":"datum.value % 300 === 0 ? datum.label : ''","tickSize":9,"encode":{"ticks":{"update":{"x2":{"signal":"datum.value % 300 === 0 ? 9 : 4"}}}},"labelFont":"DejaVu Sans Condensed, DejaVu Sans","labelFontSize":22,"labelColor":"#555"}}}},
{"data":{"name":"ti"},"transform":[{"filter":"datum.p==='H2'"}],"mark":{"type":"text","align":"left","baseline":"middle","font":"DejaVu Sans Condensed, DejaVu Sans","fontSize":21,"color":"#4d4d4d"},"encoding":{"x":{"datum":117.61},"y":{"datum":1356},"text":{"field":"t"}}},
{"data":{"name":"pk"},"transform":[{"filter":"datum.p==='H2'"}],"mark":{"type":"point","shape":"M-1,-0.74L1,-0.74L1,0.74L-1,0.74Z","size":2116,"filled":false,"stroke":"#444","strokeWidth":1.8,"opacity":1,"yOffset":28},"encoding":{"x":{"field":"x","type":"quantitative"},"y":{"datum":0}}},
{"data":{"name":"pk"},"transform":[{"filter":"datum.p==='H2'"}],"mark":{"type":"point","shape":"M0,0L0,1","size":400,"filled":false,"stroke":"#444","strokeWidth":1.5,"opacity":1},"encoding":{"x":{"field":"x","type":"quantitative"},"y":{"datum":0}}},
{"data":{"name":"pk"},"transform":[{"filter":"datum.p==='H2'"}],"mark":{"type":"text","font":"DejaVu Sans Condensed, DejaVu Sans","fontSize":22,"color":"#444","baseline":"middle","dy":28.5},"encoding":{"x":{"field":"x","type":"quantitative"},"y":{"datum":0},"text":{"field":"a"}}}
]},
{"layer":[
{"data":{"name":"tr"},"transform":[{"filter":"datum.p==='H4'"}],"mark":{"type":"line","interpolate":"monotone","color":"#555","strokeWidth":2.6},"encoding":{"x":{"field":"x","type":"quantitative","scale":{"domain":[113.75,175.22],"nice":false,"zero":false},"axis":{"domain":false,"ticks":false,"labels":false,"grid":false,"title":null}},"y":{"field":"y","type":"quantitative","scale":{"domain":[0,1012],"range":[841,705],"nice":false,"zero":false},"axis":{"orient":"right","offset":-84,"title":null,"format":"d","values":[100,200,300,400,500,600,700,800,900,1000],"labelExpr":"datum.value % 300 === 0 ? datum.label : ''","tickSize":9,"encode":{"ticks":{"update":{"x2":{"signal":"datum.value % 300 === 0 ? 9 : 4"}}}},"labelFont":"DejaVu Sans Condensed, DejaVu Sans","labelFontSize":22,"labelColor":"#555"}}}},
{"data":{"name":"ti"},"transform":[{"filter":"datum.p==='H4'"}],"mark":{"type":"text","align":"left","baseline":"middle","font":"DejaVu Sans Condensed, DejaVu Sans","fontSize":21,"color":"#4d4d4d"},"encoding":{"x":{"datum":117.61},"y":{"datum":1235},"text":{"field":"t"}}},
{"data":{"name":"pk"},"transform":[{"filter":"datum.p==='H4'"}],"mark":{"type":"point","shape":"M-1,-0.74L1,-0.74L1,0.74L-1,0.74Z","size":2116,"filled":false,"stroke":"#444","strokeWidth":1.8,"opacity":1,"yOffset":26},"encoding":{"x":{"field":"x","type":"quantitative"},"y":{"datum":0}}},
{"data":{"name":"pk"},"transform":[{"filter":"datum.p==='H4'"}],"mark":{"type":"point","shape":"M0,0L0,1","size":324,"filled":false,"stroke":"#444","strokeWidth":1.5,"opacity":1},"encoding":{"x":{"field":"x","type":"quantitative"},"y":{"datum":0}}},
{"data":{"name":"pk"},"transform":[{"filter":"datum.p==='H4'"}],"mark":{"type":"text","font":"DejaVu Sans Condensed, DejaVu Sans","fontSize":22,"color":"#444","baseline":"middle","dy":26.5},"encoding":{"x":{"field":"x","type":"quantitative"},"y":{"datum":0},"text":{"field":"a"}}}
]},
{"layer":[
{"data":{"name":"tr"},"transform":[{"filter":"datum.p==='H6'"}],"mark":{"type":"line","interpolate":"monotone","color":"#555","strokeWidth":2.6},"encoding":{"x":{"field":"x","type":"quantitative","scale":{"domain":[113.75,175.22],"nice":false,"zero":false},"axis":{"domain":false,"ticks":false,"labels":false,"grid":false,"title":null}},"y":{"field":"y","type":"quantitative","scale":{"domain":[0,1663],"range":[1108,970],"nice":false,"zero":false},"axis":{"orient":"right","offset":-84,"title":null,"format":"d","values":[500,1000,1500],"tickSize":9,"labelFont":"DejaVu Sans Condensed, DejaVu Sans","labelFontSize":22,"labelColor":"#555"}}}},
{"data":{"name":"ti"},"transform":[{"filter":"datum.p==='H6'"}],"mark":{"type":"text","align":"left","baseline":"middle","font":"DejaVu Sans Condensed, DejaVu Sans","fontSize":21,"color":"#4d4d4d"},"encoding":{"x":{"datum":117.61},"y":{"datum":2024},"text":{"field":"t"}}},
{"data":{"name":"pk"},"transform":[{"filter":"datum.p==='H6'"}],"mark":{"type":"point","shape":"M-1,-0.74L1,-0.74L1,0.74L-1,0.74Z","size":2116,"filled":false,"stroke":"#444","strokeWidth":1.8,"opacity":1,"yOffset":28},"encoding":{"x":{"field":"x","type":"quantitative"},"y":{"datum":0}}},
{"data":{"name":"pk"},"transform":[{"filter":"datum.p==='H6'"}],"mark":{"type":"point","shape":"M0,0L0,1","size":400,"filled":false,"stroke":"#444","strokeWidth":1.5,"opacity":1},"encoding":{"x":{"field":"x","type":"quantitative"},"y":{"datum":0}}},
{"data":{"name":"pk"},"transform":[{"filter":"datum.p==='H6'"}],"mark":{"type":"text","font":"DejaVu Sans Condensed, DejaVu Sans","fontSize":22,"color":"#444","baseline":"middle","dy":28.5},"encoding":{"x":{"field":"x","type":"quantitative"},"y":{"datum":0},"text":{"field":"a"}}}
]},
{"layer":[
{"data":{"name":"tr"},"transform":[{"filter":"datum.p==='H8'"}],"mark":{"type":"line","interpolate":"monotone","color":"#555","strokeWidth":2.6},"encoding":{"x":{"field":"x","type":"quantitative","scale":{"domain":[113.75,175.22],"nice":false,"zero":false},"axis":{"domain":false,"ticks":false,"labels":false,"grid":false,"title":null}},"y":{"field":"y","type":"quantitative","scale":{"domain":[0,649],"range":[1415,1277],"nice":false,"zero":false},"axis":{"orient":"right","offset":-84,"title":null,"format":"d","values":[100,200,300,400,500,600],"labelExpr":"datum.value % 200 === 0 ? datum.label : ''","tickSize":9,"encode":{"ticks":{"update":{"x2":{"signal":"datum.value % 200 === 0 ? 9 : 4"}}}},"labelFont":"DejaVu Sans Condensed, DejaVu Sans","labelFontSize":22,"labelColor":"#555"}}}},
{"data":{"name":"ti"},"transform":[{"filter":"datum.p==='H8'"}],"mark":{"type":"text","align":"left","baseline":"middle","font":"DejaVu Sans Condensed, DejaVu Sans","fontSize":21,"color":"#4d4d4d"},"encoding":{"x":{"datum":117.61},"y":{"datum":794},"text":{"field":"t"}}},
{"data":{"name":"pk"},"transform":[{"filter":"datum.p==='H8'"}],"mark":{"type":"point","shape":"M-1,-0.74L1,-0.74L1,0.74L-1,0.74Z","size":2116,"filled":false,"stroke":"#444","strokeWidth":1.8,"opacity":1,"yOffset":26},"encoding":{"x":{"field":"x","type":"quantitative"},"y":{"datum":0}}},
{"data":{"name":"pk"},"transform":[{"filter":"datum.p==='H8'"}],"mark":{"type":"point","shape":"M0,0L0,1","size":324,"filled":false,"stroke":"#444","strokeWidth":1.5,"opacity":1},"encoding":{"x":{"field":"x","type":"quantitative"},"y":{"datum":0}}},
{"data":{"name":"pk"},"transform":[{"filter":"datum.p==='H8'"}],"mark":{"type":"text","font":"DejaVu Sans Condensed, DejaVu Sans","fontSize":22,"color":"#444","baseline":"middle","dy":26.5},"encoding":{"x":{"field":"x","type":"quantitative"},"y":{"datum":0},"text":{"field":"a"}}}
]}
]
}
]
}
